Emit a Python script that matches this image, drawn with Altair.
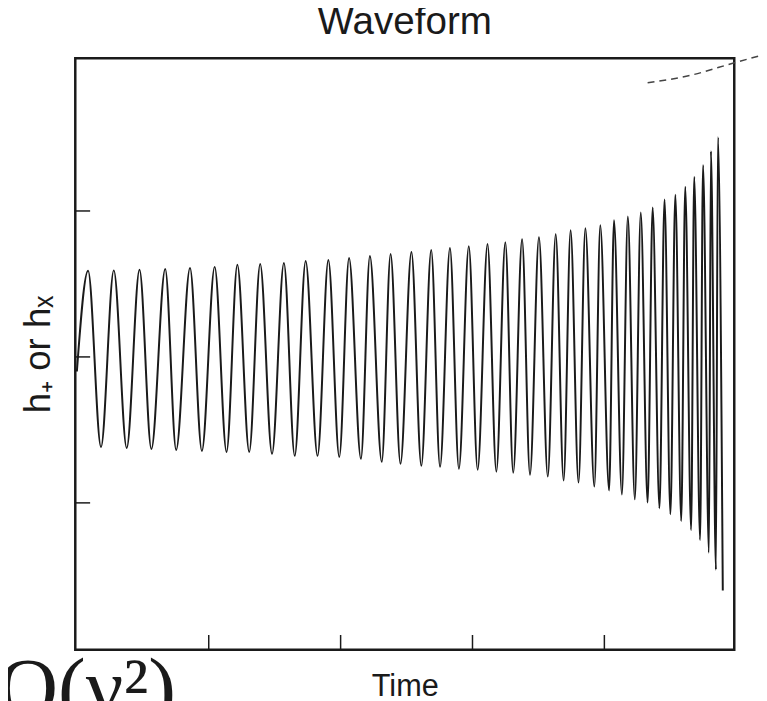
import altair as alt
import pandas as pd

# Waveform extrema (time in tick units, amplitude in tick units)
peak_t = [0.085, 0.280, 0.475, 0.670, 0.858, 1.045, 1.217, 1.390, 1.570, 1.735,
          1.907, 2.064, 2.222, 2.379, 2.537, 2.687, 2.829, 2.972, 3.114, 3.249,
          3.376, 3.504, 3.631, 3.744, 3.856, 3.969, 4.073, 4.178, 4.276, 4.366,
          4.456, 4.538, 4.613, 4.681, 4.748, 4.808, 4.861]
peak_h = [0.590, 0.593, 0.597, 0.603, 0.610, 0.617, 0.631, 0.637, 0.644, 0.658,
          0.664, 0.678, 0.692, 0.705, 0.719, 0.732, 0.746, 0.759, 0.773, 0.786,
          0.807, 0.820, 0.841, 0.868, 0.881, 0.902, 0.936, 0.963, 0.990, 1.024,
          1.078, 1.112, 1.166, 1.234, 1.315, 1.410, 1.505]
trough_t = [0.183, 0.378, 0.565, 0.753, 0.948, 1.135, 1.307, 1.480, 1.652, 1.825,
            1.990, 2.154, 2.312, 2.454, 2.612, 2.754, 2.897, 3.039, 3.181, 3.309,
            3.436, 3.571, 3.691, 3.804, 3.924, 4.036, 4.133, 4.231, 4.328, 4.418,
            4.501, 4.583, 4.658, 4.726, 4.793, 4.846, 4.898]
trough_h = [-0.617, -0.624, -0.631, -0.637, -0.644, -0.651, -0.651, -0.664, -0.678, -0.678,
            -0.685, -0.698, -0.719, -0.732, -0.746, -0.753, -0.766, -0.773, -0.786, -0.793,
            -0.807, -0.820, -0.847, -0.861, -0.888, -0.915, -0.942, -0.976, -0.997, -1.037,
            -1.078, -1.125, -1.186, -1.254, -1.342, -1.458, -1.600]
start_t = [0.0]
start_h = [-0.10]

# dashed curve entering from the neighbouring panel (top right)
dash_t = [4.328, 4.665, 4.980, 5.168]
dash_h = [1.878, 1.932, 2.014, 2.061]

x_ticks = [1, 2, 3, 4]
y_ticks = [-1, 0, 1]

wave = pd.DataFrame({
    "t": start_t + peak_t + trough_t,
    "h": start_h + peak_h + trough_h,
}).sort_values("t")
dash = pd.DataFrame({"t": dash_t, "h": dash_h})
xt = pd.DataFrame({"t": x_ticks})
yt = pd.DataFrame({"h": y_ticks})

W, H = 666, 598
ink = "#1a1a1a"

xscale = alt.Scale(domain=[-0.012, 4.985], nice=False, zero=False)
yscale = alt.Scale(domain=[-2.007, 2.047], nice=False, zero=False)

xaxis = alt.Axis(title="Time", ticks=False, labels=False, domain=False, grid=False,
                 titleFont="Liberation Sans", titleFontSize=31, titleFontWeight="normal",
                 titleColor=ink, titleBaseline="alphabetic", titlePadding=46)
yaxis = alt.Axis(title="h₊ or hₓ", ticks=False, labels=False, domain=False, grid=False,
                 titleFont="Liberation Sans", titleFontSize=37, titleFontWeight="normal",
                 titleColor=ink, titleBaseline="alphabetic", titlePadding=26)

X = alt.X("t:Q", scale=xscale, axis=xaxis, title="Time")
Y = alt.Y("h:Q", scale=yscale, axis=yaxis, title="h₊ or hₓ")

line = alt.Chart(wave).mark_line(interpolate="monotone", color=ink, strokeWidth=2).encode(
    x=X, y=Y, order="t:Q",
)

dashed = alt.Chart(dash).mark_line(color="#444444", strokeWidth=1.5, strokeDash=[7, 5],
                                    clip=False, interpolate="monotone").encode(
    x=X, y=Y,
)

xtick_rules = alt.Chart(xt).mark_rule(color=ink, strokeWidth=1.5).encode(
    x=X,
    y=alt.value(H),
    y2=alt.value(H - 15),
)

ytick_rules = alt.Chart(yt).mark_rule(color=ink, strokeWidth=1.5).encode(
    y=Y,
    x=alt.value(0),
    x2=alt.value(15),
)

fragment = alt.Chart(pd.DataFrame({"s": ["O(ν²)"]})).mark_text(
    font="Liberation Serif", fontSize=84, align="left", baseline="alphabetic", color=ink
).encode(
    text="s:N",
    x=alt.value(-78),
    y=alt.value(664),
)

chart = alt.layer(line, dashed, xtick_rules, ytick_rules, fragment).properties(
    width=W,
    height=H,
    title=alt.Title("Waveform", font="Liberation Sans", fontSize=39, fontWeight="normal",
                    color=ink, anchor="middle", offset=11),
    autosize=alt.AutoSizeParams(type="none"),
    padding={"left": 68, "top": 47, "right": 25, "bottom": 48},
).configure(background="white").configure_view(stroke=ink, strokeWidth=2.5)

chart.save("out.html", embed_options={"renderer": "svg", "actions": False})
